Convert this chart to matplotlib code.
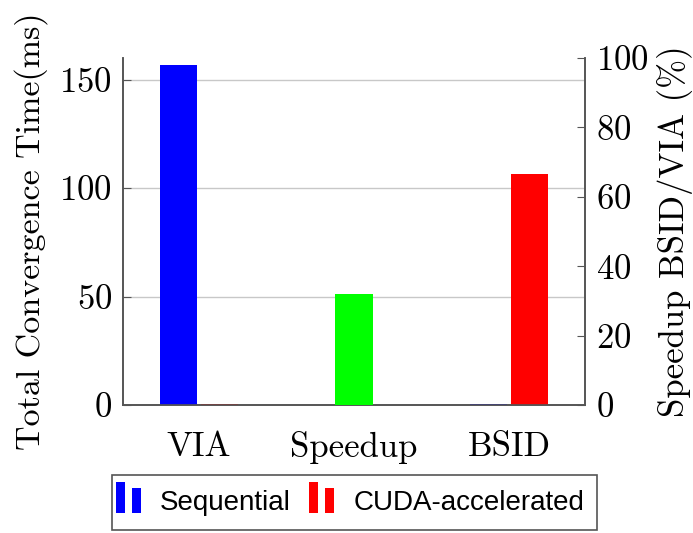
import matplotlib
matplotlib.use("Agg")
import matplotlib.pyplot as plt
from matplotlib.patches import Rectangle
from matplotlib.legend_handler import HandlerBase
import numpy as np

categories = ["VIA", "Speedup", "BSID"]
seq_times = [157.0, 0.0, 0.3]          # ms, sequential
cuda_times = [0.3, 0.0, 106.5]         # ms, CUDA-accelerated
speedup_pct = 32.0                     # %, BSID/VIA
left_ticks = [0, 50, 100, 150]
right_ticks = [0, 20, 40, 60, 80, 100]

plt.rcParams["axes.formatter.use_mathtext"] = True
SERIF = "cmr10"
W, H = 693, 533

fig = plt.figure(figsize=(W / 100, H / 100), dpi=100)
ax = fig.add_axes([123 / W, 1 - 405 / H, (585 - 123) / W, (405 - 58) / H])
ax2 = ax.twinx()

x = np.arange(len(categories))
w = 0.24
off = 0.13
ax.bar(x[[0, 2]] - off, [seq_times[0], seq_times[2]], w, color="#0000ff", zorder=3)
ax.bar(x[[0, 2]] + off, [cuda_times[0], cuda_times[2]], w, color="#ff0000", zorder=3)
ax2.bar(x[1], speedup_pct, w, color="#00ff00", zorder=3)

ax.set_xlim(-0.49, 2.49)
ax.set_ylim(0, 160)
ax2.set_ylim(0, 100)
ax.set_yticks(left_ticks)
ax2.set_yticks(right_ticks)
ax.set_xticks(x)
ax.set_xticklabels(categories)

ax.grid(axis="y", color="#c8c8c8", lw=1, zorder=0)
ax.set_axisbelow(True)

spine_col = "#555555"
for a in (ax, ax2):
    a.spines["top"].set_visible(False)
    for s in a.spines.values():
        s.set_color(spine_col)
        s.set_linewidth(1.2)
ax.tick_params(axis="y", direction="in", length=6, color=spine_col, labelsize=25, pad=8)
ax2.tick_params(axis="y", direction="in", length=6, color=spine_col, labelsize=25, pad=8)
ax.tick_params(axis="x", length=0, labelsize=25, pad=19)
for lab in ax.get_yticklabels() + ax2.get_yticklabels() + ax.get_xticklabels():
    lab.set_fontfamily(SERIF)

ax.set_ylabel("Total Convergence Time(ms)", fontfamily=SERIF, fontsize=24.5, labelpad=8)
ax2.set_ylabel("Speedup BSID/VIA (%)", fontfamily=SERIF, fontsize=25, labelpad=6)


class TwoBars(HandlerBase):
    """Legend key drawn as two thin upright bars."""
    def create_artists(self, legend, orig_handle, xdescent, ydescent,
                       width, height, fontsize, trans):
        col = orig_handle.get_facecolor()
        bw = width * 0.36
        h = height * 1.6
        y0 = -ydescent - height * 0.15
        r1 = Rectangle((-xdescent, y0), bw, h, facecolor=col, lw=0, transform=trans)
        r2 = Rectangle((-xdescent + width - bw, y0), bw, h * 0.8,
                       facecolor=col, lw=0, transform=trans)
        return [r1, r2]


h1 = Rectangle((0, 0), 1, 1, facecolor="#0000ff")
h2 = Rectangle((0, 0), 1, 1, facecolor="#ff0000")
leg = fig.legend([h1, h2], ["Sequential", "CUDA-accelerated"],
                 handler_map={Rectangle: TwoBars()},
                 loc="center", bbox_to_anchor=(350 / W, 1 - 503 / H),
                 ncol=2, frameon=False, handlelength=0.9,
                 handletextpad=0.68, columnspacing=0.68, borderpad=0.3,
                 borderaxespad=0,
                 prop={"family": "Liberation Sans", "size": 20})

# legend box outline
fig.patches.append(Rectangle((112 / W, 1 - 530 / H), (597 - 112) / W, (530 - 475) / H,
                             transform=fig.transFigure, fill=False,
                             edgecolor="#555555", lw=1.2, zorder=5))

fig.savefig("out.png", dpi=100)
